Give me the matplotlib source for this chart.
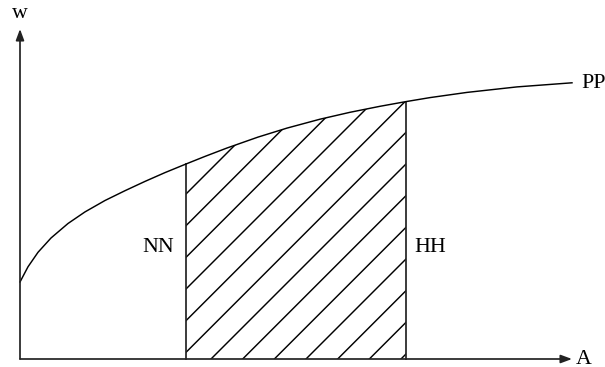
import matplotlib
matplotlib.use("Agg")
import matplotlib.pyplot as plt
import numpy as np

# Curve PP (x in pixels from the w-axis, y in pixels above the A-axis)
curve_x = [0, 8, 18, 31, 48, 65, 85, 105, 125, 145, 166, 185, 207, 238, 267,
           300, 330, 360, 386, 410, 447, 497, 552]
curve_y = [77, 92.2, 106.7, 121, 135.5, 147.1, 158.5, 168.3, 177.6, 186.4, 195, 202.6, 211,
           221.9, 230.9, 239.8, 246.7, 252.7, 257.4, 261.4, 266.6, 272.1, 276.2]
band_lo = 166   # NN
band_hi = 386   # HH
labels = {"curve": "PP", "x": "A", "y": "w", "lo": "NN", "hi": "HH"}

DPI = 190
plt.rcParams['hatch.linewidth'] = 0.55
fig = plt.figure(figsize=(605 / DPI, 367 / DPI), dpi=DPI)
ax = fig.add_axes([0, 0, 1, 1])
ax.set_xlim(-20, 585)
ax.set_ylim(-8, 359)
ax.axis('off')

cx = np.array(curve_x, float)
cy = np.array(curve_y, float)

font = dict(family='Liberation Serif', fontsize=8.3, color='black')

# hatched region
mask = (cx >= band_lo) & (cx <= band_hi)
ax.fill_between(cx[mask], 0, cy[mask], facecolor='none', edgecolor='black',
                hatch='//', linewidth=0)
ylo = cy[cx == band_lo][0]
yhi = cy[cx == band_hi][0]
ax.plot([band_lo, band_lo], [0, ylo], color='#222222', lw=0.65)
ax.plot([band_hi, band_hi], [0, yhi], color='#222222', lw=0.65)

# curve
ax.plot(cx, cy, color='black', lw=0.55, solid_joinstyle='round')

# axes with arrows
ax.annotate('', xy=(552, 0), xytext=(0, 0),
            arrowprops=dict(arrowstyle='-|>,head_length=0.35,head_width=0.13',
                            color='#222222', lw=0.65, shrinkA=0, shrinkB=0))
ax.annotate('', xy=(0, 330), xytext=(0, 0),
            arrowprops=dict(arrowstyle='-|>,head_length=0.35,head_width=0.13',
                            color='#222222', lw=0.65, shrinkA=0, shrinkB=0))

ax.text(556, 0, labels["x"], ha='left', va='center', **font)
ax.text(0, 345, labels["y"], ha='center', va='center', **font)
ax.text(561, cy[-1] - 1, labels["curve"], ha='left', va='center', **font)
ax.text(band_lo - 12, 111, labels["lo"], ha='right', va='center', **font)
ax.text(band_hi + 8, 111, labels["hi"], ha='left', va='center', **font)

fig.savefig('out.png', dpi=DPI)
